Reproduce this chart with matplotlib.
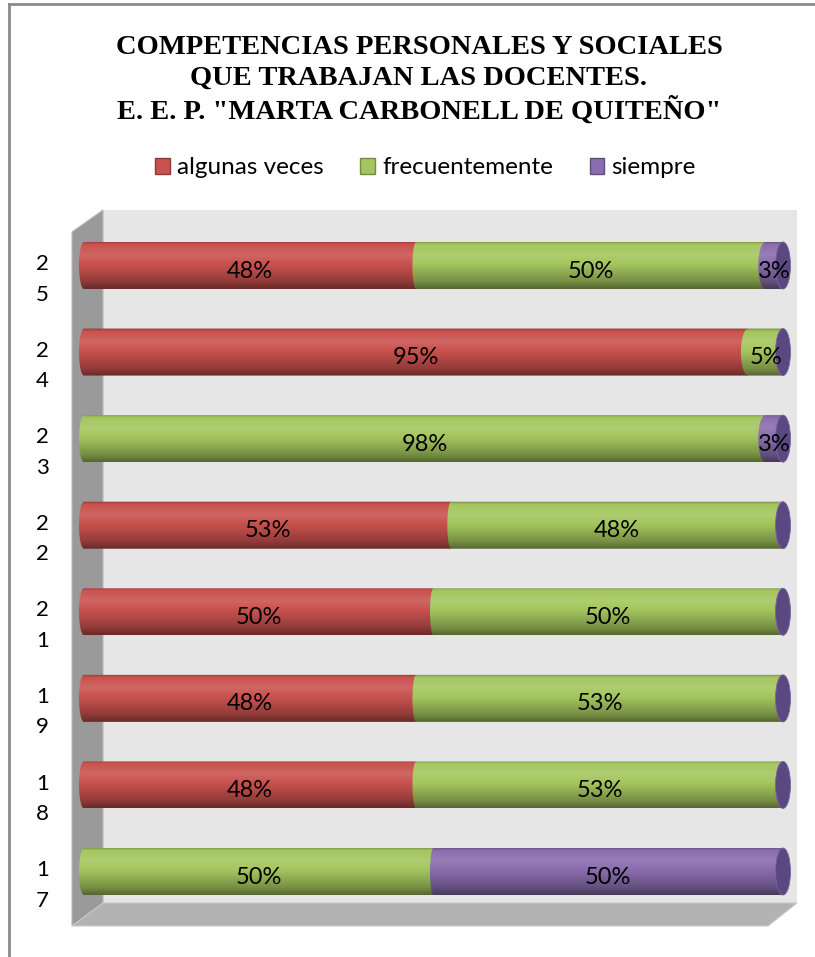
import matplotlib
matplotlib.use("Agg")
import matplotlib.pyplot as plt
import numpy as np
from matplotlib.patches import Polygon, Rectangle, Ellipse, PathPatch, Patch
from matplotlib.path import Path
from matplotlib.colors import to_rgb

# Chart data (percent of teachers per answer, by item number)
categories = ["17", "18", "19", "21", "22", "23", "24", "25"]
series_names = ["algunas veces", "frecuentemente", "siempre"]
algunas_veces = [0, 47.5, 47.5, 50, 52.5, 0, 95, 47.5]
frecuentemente = [50, 52.5, 52.5, 50, 47.5, 97.5, 5, 50]
siempre = [50, 0, 0, 0, 0, 2.5, 0, 2.5]

title = ("COMPETENCIAS PERSONALES Y SOCIALES\n"
         "QUE TRABAJAN LAS DOCENTES.\n"
         "E. E. P. \"MARTA CARBONELL DE QUITEÑO\"")

colors = ["#C9524E", "#A4C65E", "#8A6DAE"]
cap_color = "#5C4880"

W, H = 815, 957
fig = plt.figure(figsize=(W / 100, H / 100), dpi=100)

# background: frame, 3D walls and floor (pixel coordinates)
bg = fig.add_axes([0, 0, 1, 1])
bg.set_xlim(0, W)
bg.set_ylim(H, 0)
bg.axis("off")
bg.plot([9, 9], [4, H], color="#8c8c8c", lw=2)
bg.plot([9, W], [4, 4], color="#8c8c8c", lw=2)
bg.add_patch(Rectangle((103, 210), 694, 693, facecolor="#e6e6e6", edgecolor="none"))
bg.add_patch(Polygon([(72, 232), (103, 210), (103, 903), (72, 926)],
                     facecolor="#9a9a9a", edgecolor="#b8b8b8", lw=0.8))
bg.add_patch(Polygon([(72, 926), (103, 903), (797, 903), (768, 926)],
                     facecolor="#b3b3b3", edgecolor="#c8c8c8", lw=0.8))

# data axes: 7 px per percent, 0% at x=84 px
px_per_unit = 6.99
zero_px = 84
x0, x1 = -3, 103
left_px = zero_px + x0 * px_per_unit
top_px, bottom_px = 222.2, 914.8
ax = fig.add_axes([left_px / W, 1 - bottom_px / H,
                   (x1 - x0) * px_per_unit / W, (bottom_px - top_px) / H])
ax.patch.set_alpha(0)
ax.axis("off")

bar_h = 0.543
ry = bar_h / 2


def cap_rx(x):
    # perspective: end caps look narrow near the middle, wider at the ends
    k = 1.5 if x < 50 else 4.0
    return (3.5 + k * abs(x - 50) / 50) / px_per_unit


def shade(color, n=60):
    base = np.array(to_rgb(color))
    t = np.linspace(0, 1, n)
    f = np.interp(t, [0, 0.06, 0.28, 0.55, 0.85, 1.0],
                  [0.72, 1.0, 1.1, 0.95, 0.72, 0.52])
    rows = []
    for k in f:
        if k >= 1:
            rows.append(base + (1 - base) * (k - 1) * 1.2)
        else:
            rows.append(base * k)
    return np.clip(np.array(rows), 0, 1)[:, None, :]


series = [algunas_veces, frecuentemente, siempre]
ypos = np.arange(len(categories))

for i, y in enumerate(ypos):
    start = 0
    for j, vals in enumerate(series):
        v = vals[i]
        if v <= 0:
            continue
        s, e = start, start + v
        rx = cap_rx(s)
        th = np.linspace(0, np.pi, 30)
        verts = [(s - rx * np.sin(a), y + ry * np.cos(a)) for a in th]
        verts += [(e, y - ry), (e, y + ry), (s, y + ry)]
        codes = [Path.MOVETO] + [Path.LINETO] * (len(verts) - 2) + [Path.CLOSEPOLY]
        clip = PathPatch(Path(verts, codes), transform=ax.transData)
        im = ax.imshow(shade(colors[j]), extent=(s - rx, e, y - ry, y + ry),
                       aspect="auto", origin="upper", zorder=2 + j,
                       interpolation="bilinear")
        im.set_clip_path(clip)
        ax.annotate(f"{int(v + 0.5)}%", (s + v / 2, y), xytext=(0, -4),
                    textcoords="offset points", ha="center", va="center",
                    fontsize=17, family="Lato", color="black", zorder=10)
        start = e
    ax.add_patch(Ellipse((100, y), 2 * cap_rx(100), bar_h, facecolor=cap_color,
                         edgecolor="#7a64a0", lw=0.6, zorder=8))
    # category labels, digits stacked vertically
    ax.annotate("\n".join(categories[i]), (42.5, y),
                xycoords=("figure pixels", "data"), xytext=(0, -10),
                textcoords="offset points", ha="center", va="center",
                fontsize=16, family="Lato", linespacing=1.65, annotation_clip=False)

ax.set_xlim(x0, x1)
ax.set_ylim(-0.5, len(categories) - 0.5)

fig.text(419 / W, 1 - 80 / H, title, ha="center", va="center", fontsize=20.5,
         fontweight="bold", family="Liberation Serif", linespacing=1.28)

handles = [Patch(facecolor=c, edgecolor=to_rgb(c) * np.array(0.7))
           for c in colors]
fig.legend(handles, series_names, loc="center",
           bbox_to_anchor=(425.5 / W, 1 - 168 / H), ncol=3, frameon=False,
           prop={"family": "Lato", "size": 17.5}, handlelength=0.6,
           handleheight=0.6, handletextpad=0.3, columnspacing=1.5)

fig.savefig("out.png", dpi=100)
